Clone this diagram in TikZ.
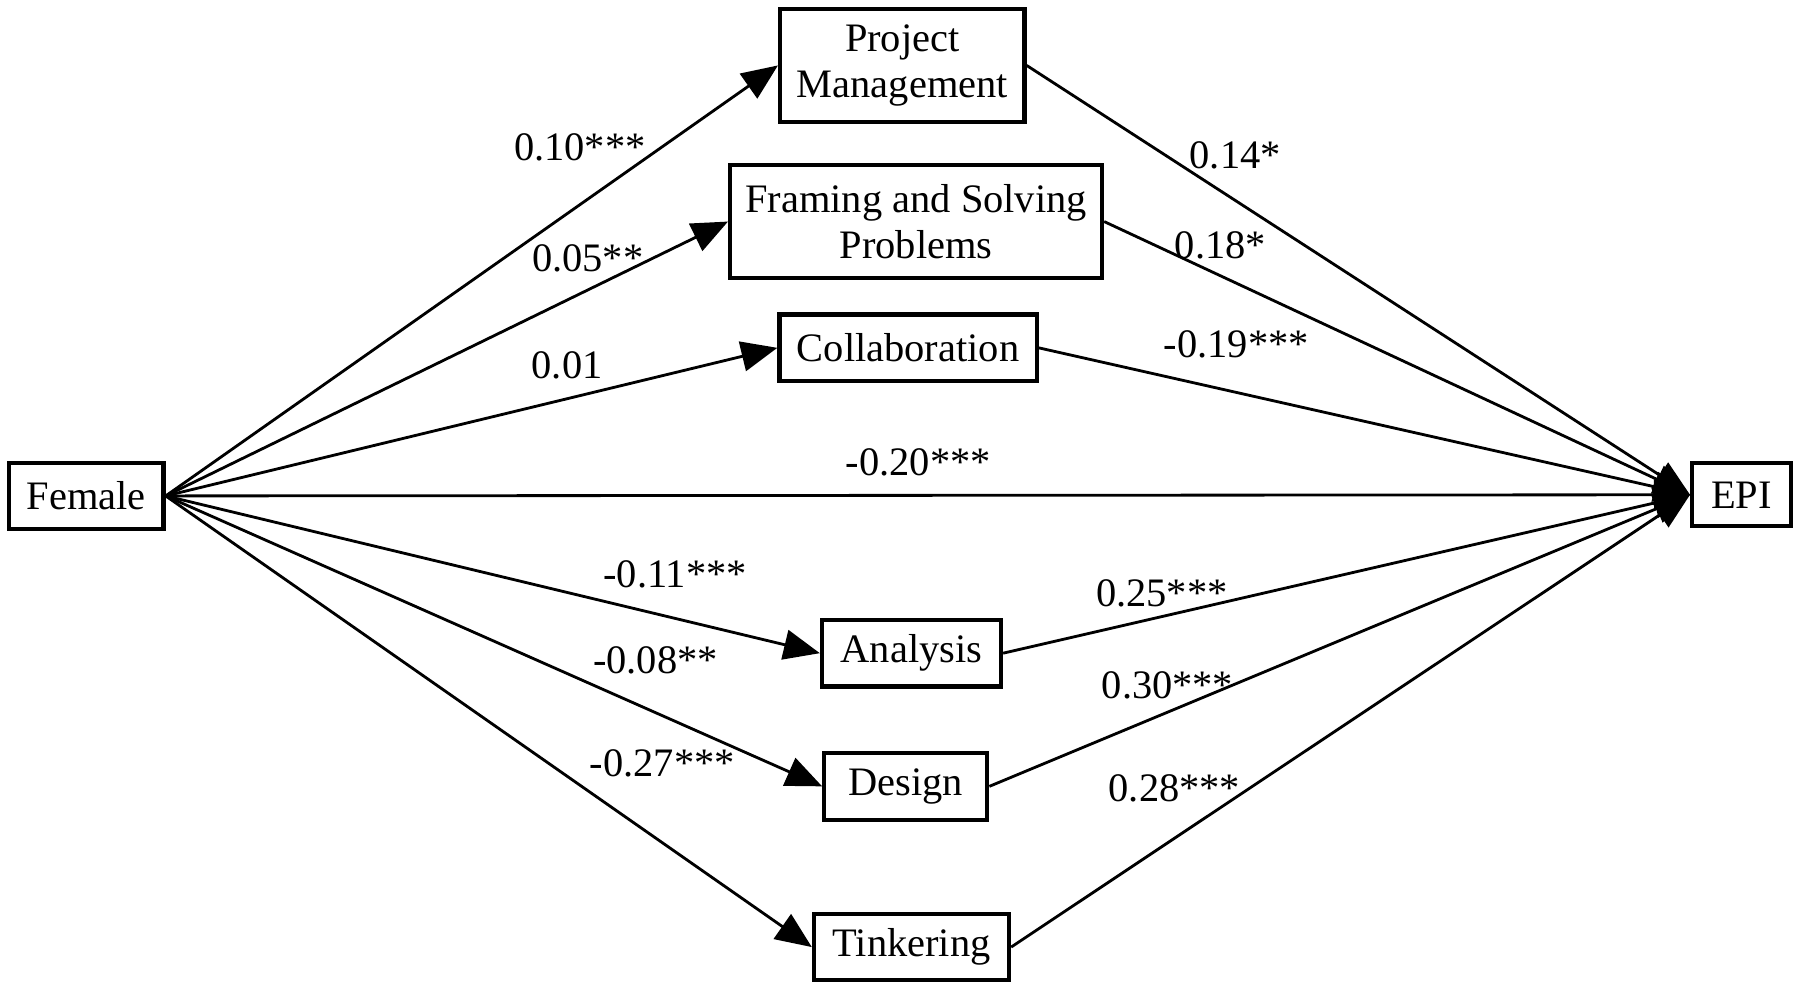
\documentclass[tikz,border=0pt]{standalone}
\usepackage{fontspec}
\setmainfont{Liberation Serif}
\usetikzlibrary{arrows.meta}
\begin{document}
\begin{tikzpicture}[x=0.01148cm,y=-0.01148cm,
  box/.style={draw,line width=1.2pt,inner sep=0pt,align=center,font=\fontsize{11.5}{13}\selectfont},
  lab/.style={font=\fontsize{11.5}{13}\selectfont,inner sep=0pt},
  arr/.style={line width=0.8pt,-{Triangle[length=0.36cm,width=0.3cm]}},
  ln/.style={line width=0.8pt}]
\useasboundingbox (0,0) rectangle (1568,862);
\node[box,minimum width=213*0.01148cm,minimum height=98*0.01148cm] (pm) at (786,57) {Project\\Management};
\node[box,minimum width=324*0.01148cm,minimum height=98*0.01148cm] (fs) at (798,193) {Framing and Solving\\Problems};
\node[box,minimum width=224*0.01148cm,minimum height=58*0.01148cm] (co) at (791,303) {Collaboration};
\node[box,minimum width=135*0.01148cm,minimum height=57*0.01148cm] (fe) at (75,432) {Female};
\node[box,minimum width=86*0.01148cm,minimum height=55*0.01148cm] (epi) at (1517,431) {EPI};
\node[box,minimum width=156*0.01148cm,minimum height=58*0.01148cm] (an) at (794,569) {Analysis};
\node[box,minimum width=142*0.01148cm,minimum height=58*0.01148cm] (de) at (789,685) {Design};
\node[box,minimum width=170*0.01148cm,minimum height=58*0.01148cm] (ti) at (794,825) {Tinkering};
\coordinate (fo) at (fe.east);
\coordinate (ei) at (epi.west);
\draw[arr] (fo) -- (pm.west);
\draw[arr] (fo) -- (fs.west);
\draw[arr] (fo) -- (co.west);
\draw[arr] (fo) -- (ei);
\draw[arr] (fo) -- (an.west);
\draw[arr] (fo) -- (de.west);
\draw[arr] (fo) -- (ti.west);
\draw[arr] (pm.east) -- (ei);
\draw[arr] (fs.east) -- (ei);
\draw[arr] (co.east) -- (ei);
\draw[arr] (an.east) -- (ei);
\draw[arr] (de.east) -- (ei);
\draw[arr] (ti.east) -- (ei);
\node[lab] (l1) at (505,128) {0.10***};
\node[lab] (l2) at (512,225) {0.05**};
\node[lab] (l3) at (494,318) {0.01};
\node[lab] (l4) at (800,403) {-0.20***};
\node[lab] (l5) at (588,500) {-0.11***};
\node[lab] (l6) at (571,575) {-0.08**};
\node[lab] (l7) at (577,665) {-0.27***};
\node[lab] (r1) at (1076,135) {0.14*};
\node[lab] (r2) at (1063,214) {0.18*};
\node[lab] (r3) at (1077,300) {-0.19***};
\node[lab] (r4) at (1012,517) {0.25***};
\node[lab] (r5) at (1017,597) {0.30***};
\node[lab] (r6) at (1023,687) {0.28***};
\end{tikzpicture}
\end{document}
